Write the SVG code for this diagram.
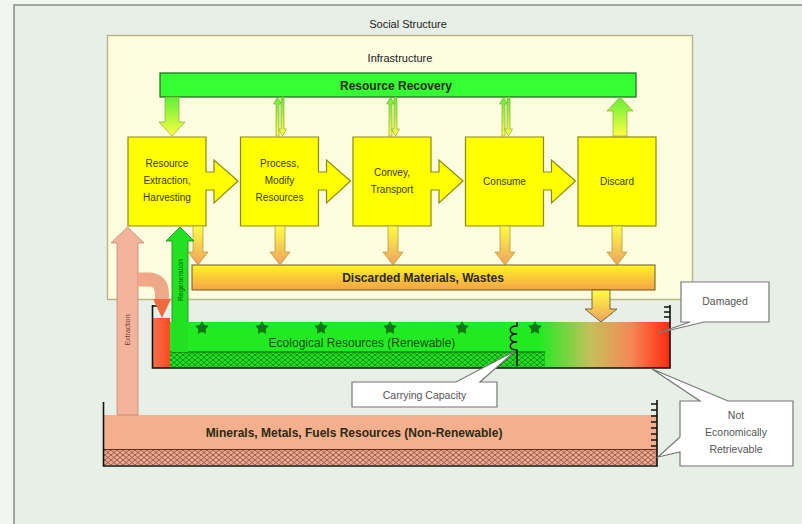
<svg xmlns="http://www.w3.org/2000/svg" width="802" height="524" viewBox="0 0 802 524">
<defs>
<style>
text{font-family:"Liberation Sans",Arial,sans-serif;}
.title{font-size:11px;fill:#222;text-anchor:middle;}
.bar{font-size:12px;font-weight:bold;fill:#2a2a10;text-anchor:middle;}
.box{fill:#ffff00;stroke:#8a8a10;stroke-width:1.2;}
.boxt{font-size:10px;fill:#3a3a10;text-anchor:middle;}
.call{fill:#ffffff;stroke:#777;stroke-width:1.2;}
.callt{font-size:10.5px;fill:#555;text-anchor:middle;}
.ga{fill:url(#gy);stroke:#8a9a30;stroke-width:0.6;}
.ya{fill:url(#yo);stroke:#9a8a30;stroke-width:0.6;}
.tick{stroke:#111;stroke-width:1.6;fill:none;}
</style>
<linearGradient id="gy" x1="0" y1="0" x2="0" y2="1"><stop offset="0" stop-color="#5ef03a"/><stop offset="1" stop-color="#ffff40"/></linearGradient>
<linearGradient id="yo" x1="0" y1="0" x2="0" y2="1"><stop offset="0" stop-color="#ffff40"/><stop offset="1" stop-color="#f0a060"/></linearGradient>
<linearGradient id="disc" x1="0" y1="0" x2="0" y2="1"><stop offset="0" stop-color="#fff424"/><stop offset="1" stop-color="#f4a24a"/></linearGradient>
<linearGradient id="eco" x1="170" y1="0" x2="670" y2="0" gradientUnits="userSpaceOnUse"><stop offset="0" stop-color="#22ea22"/><stop offset="0.74" stop-color="#22ea22"/><stop offset="0.84" stop-color="#c4c05a"/><stop offset="0.92" stop-color="#f48a58"/><stop offset="1" stop-color="#ff2a10"/></linearGradient>
<linearGradient id="red" x1="0" y1="0" x2="1" y2="0"><stop offset="0" stop-color="#f4704a"/><stop offset="1" stop-color="#ff4a20"/></linearGradient>
<pattern id="ecoH" width="6" height="5" patternUnits="userSpaceOnUse"><rect width="6" height="5" fill="#22e022"/><path d="M0,2.5 L3,0 L6,2.5 L3,5 Z" fill="none" stroke="#0a7a0a" stroke-width="0.8"/></pattern>
<pattern id="minH" width="6" height="5" patternUnits="userSpaceOnUse"><rect width="6" height="5" fill="#e8a890"/><path d="M0,2.5 L3,0 L6,2.5 L3,5 Z" fill="none" stroke="#8a4a3a" stroke-width="0.8"/></pattern>
<path id="star" d="M0,-7 L2.2,-3 L6.7,-2.2 L3.7,1.2 L4.1,5.7 L0,4 L-4.1,5.7 L-3.7,1.2 L-6.7,-2.2 L-2.2,-3 Z" fill="#0e7a0e"/>
</defs>

<rect x="0" y="0" width="802" height="524" fill="#f3f5f1"/>

<g id="social-structure">
<rect x="14" y="5" width="800" height="530" fill="#e8efe6" stroke="#a4a4a4" stroke-width="2"/>
<text class="title" x="408" y="28">Social Structure</text>
</g>

<g id="infrastructure">
<rect x="107.5" y="35.5" width="585" height="264" fill="#fcfddf" stroke="#b8b488" stroke-width="1.4"/>
<text class="title" x="400" y="62">Infrastructure</text>
</g>

<g id="resource-recovery">
<rect x="160" y="73" width="476" height="24" fill="#33ff33" stroke="#1a6a1a" stroke-width="1.2"/>
<text class="bar" x="396" y="89.5" fill="#1a3a10">Resource Recovery</text>
</g>

<g id="discarded">
<rect x="192" y="265" width="463" height="25" fill="url(#disc)" stroke="#6a5a20" stroke-width="1"/>
<text class="bar" x="423" y="282">Discarded Materials, Wastes</text>
</g>

<g id="ecological-resources">
<rect x="170" y="322" width="500" height="46" fill="url(#eco)"/>
<rect x="153" y="318" width="17" height="50" fill="url(#red)"/>
<rect x="170" y="352" width="375" height="15" fill="url(#ecoH)"/>
<line x1="170" y1="352" x2="545" y2="352" stroke="#0a5a0a" stroke-width="1"/>
<use href="#star" x="202" y="328"/>
<use href="#star" x="262" y="328"/>
<use href="#star" x="321" y="328"/>
<use href="#star" x="390" y="328"/>
<use href="#star" x="462" y="328"/>
<use href="#star" x="535" y="328"/>
<text x="362" y="347" font-size="12" fill="#0e500e" text-anchor="middle">Ecological Resources (Renewable)</text>
<path class="tick" d="M152.5,305 V368 H670 V305"/>
<path class="tick" d="M152.5,306 H160 M664,307 H670 M664,312 H670 M664,317 H670"/>
<path d="M517,322 V326 C508,326 508,334 517,334 C508,334 508,342 517,342 C508,342 508,350 517,350 V366" fill="none" stroke="#111" stroke-width="1.5"/>
</g>

<g id="minerals">
<rect x="104" y="415" width="553" height="35" fill="#f4b08e"/>
<rect x="104" y="450" width="553" height="15" fill="url(#minH)"/>
<line x1="104" y1="449.5" x2="657" y2="449.5" stroke="#6a2a1a" stroke-width="1.2"/>
<path class="tick" d="M103.5,402 V466 H657 V400"/>
<path class="tick" d="M651,404 H657 M651,410 H657 M651,416 H657 M651,422 H657 M651,428 H657 M651,434 H657 M651,440 H657 M651,446 H657"/>
<text class="bar" x="354" y="437">Minerals, Metals, Fuels Resources (Non-Renewable)</text>
</g>

<g id="box-extraction">
<path class="box" d="M128,137 H206 V172 H214 V160 L238,181 L214,203 V190 H206 V226 H128 Z"/>
<text class="boxt" x="167" y="167">Resource</text>
<text class="boxt" x="167" y="184">Extraction,</text>
<text class="boxt" x="167" y="201">Harvesting</text>
</g>
<g id="box-process">
<path class="box" d="M240.5,137 H318.5 V172 H326.5 V160 L350.5,181 L326.5,203 V190 H318.5 V226 H240.5 Z"/>
<text class="boxt" x="279.5" y="167">Process,</text>
<text class="boxt" x="279.5" y="184">Modify</text>
<text class="boxt" x="279.5" y="201">Resources</text>
</g>
<g id="box-convey">
<path class="box" d="M353,137 H431 V172 H439 V160 L463,181 L439,203 V190 H431 V226 H353 Z"/>
<text class="boxt" x="392" y="176">Convey,</text>
<text class="boxt" x="392" y="193">Transport</text>
</g>
<g id="box-consume">
<path class="box" d="M465.5,137 H543.5 V172 H551.5 V160 L575.5,181 L551.5,203 V190 H543.5 V226 H465.5 Z"/>
<text class="boxt" x="504.5" y="185">Consume</text>
</g>
<g id="box-discard">
<rect class="box" x="578" y="137" width="78" height="89"/>
<text class="boxt" x="617" y="185">Discard</text>
</g>

<g id="callout-carrying">
<path class="call" d="M352,382 H456 L515,351 L480,382 H497 V407 H352 Z"/>
<text class="callt" x="424.5" y="398.5">Carrying Capacity</text>
</g>
<g id="callout-damaged">
<path class="call" d="M681,282 H769 V322 H704 L658,333 L690,322 H681 Z"/>
<text class="callt" x="725" y="305">Damaged</text>
</g>
<g id="callout-not-retrievable">
<path class="call" d="M680,401 H700 L652,369 L728,401 H793 V466 H680 V452 L658,457 L680,437 Z"/>
<text class="callt" x="736" y="419">Not</text>
<text class="callt" x="736" y="436">Economically</text>
<text class="callt" x="736" y="453">Retrievable</text>
</g>

<g id="connectors">
<polygon class="ga" points="165,97 179,97 179,122 185,122 172,136 159,122 165,122"/>
<polygon class="ga" points="613,136 627,136 627,111 633,111 620,97 607,111 613,111"/>
<polygon class="ga" points="276,136 279,136 279,104 281.5,104 277.5,97 273.5,104 276,104"/>
<polygon class="ga" points="281,97 284,97 284,129 286.5,129 282.5,136 278.5,129 281,129"/>
<polygon class="ga" points="389,136 392,136 392,104 394.5,104 390.5,97 386.5,104 389,104"/>
<polygon class="ga" points="394,97 397,97 397,129 399.5,129 395.5,136 391.5,129 394,129"/>
<polygon class="ga" points="502,136 505,136 505,104 507.5,104 503.5,97 499.5,104 502,104"/>
<polygon class="ga" points="507,97 510,97 510,129 512.5,129 508.5,136 504.5,129 507,129"/>
<polygon class="ya" points="193,226 203,226 203,252 208,252 198,265 188,252 193,252"/>
<polygon class="ya" points="275,226 285,226 285,252 290,252 280,265 270,252 275,252"/>
<polygon class="ya" points="388,226 398,226 398,252 403,252 393,265 383,252 388,252"/>
<polygon class="ya" points="500,226 510,226 510,252 515,252 505,265 495,252 500,252"/>
<polygon class="ya" points="612,226 622,226 622,252 627,252 617,265 607,252 612,252"/>
<polygon points="592,290 610,290 610,309 617,309 601,322 585,309 592,309" fill="url(#yo)" stroke="#5a4a20" stroke-width="0.8"/>
<polygon points="117,415 138,415 138,243 144,243 127.5,227 111,243 117,243" fill="#f4b49c" stroke="#b07060" stroke-width="0.6"/>
<text x="0" y="0" font-size="7" fill="#7a3a2a" text-anchor="middle" transform="translate(130,330) rotate(-90)">Extraction</text>
<path d="M138,279.5 H148 Q162,279.5 162,294 V300" fill="none" stroke="#efa888" stroke-width="14"/>
<polygon points="153,299 171,299 162,318" fill="#f06a40"/>
<polygon points="172,352 188,352 188,241 194,241 180,227 166,241 172,241" fill="#22e022"/>
<polyline points="172,322 172,241 166,241 180,227 194,241 188,241 188,322" fill="none" stroke="#1a8a1a" stroke-width="0.8"/>
<text x="0" y="0" font-size="7" fill="#0a5a0a" text-anchor="middle" transform="translate(182.5,280) rotate(-90)">Regeneration</text>
</g>
</svg>
